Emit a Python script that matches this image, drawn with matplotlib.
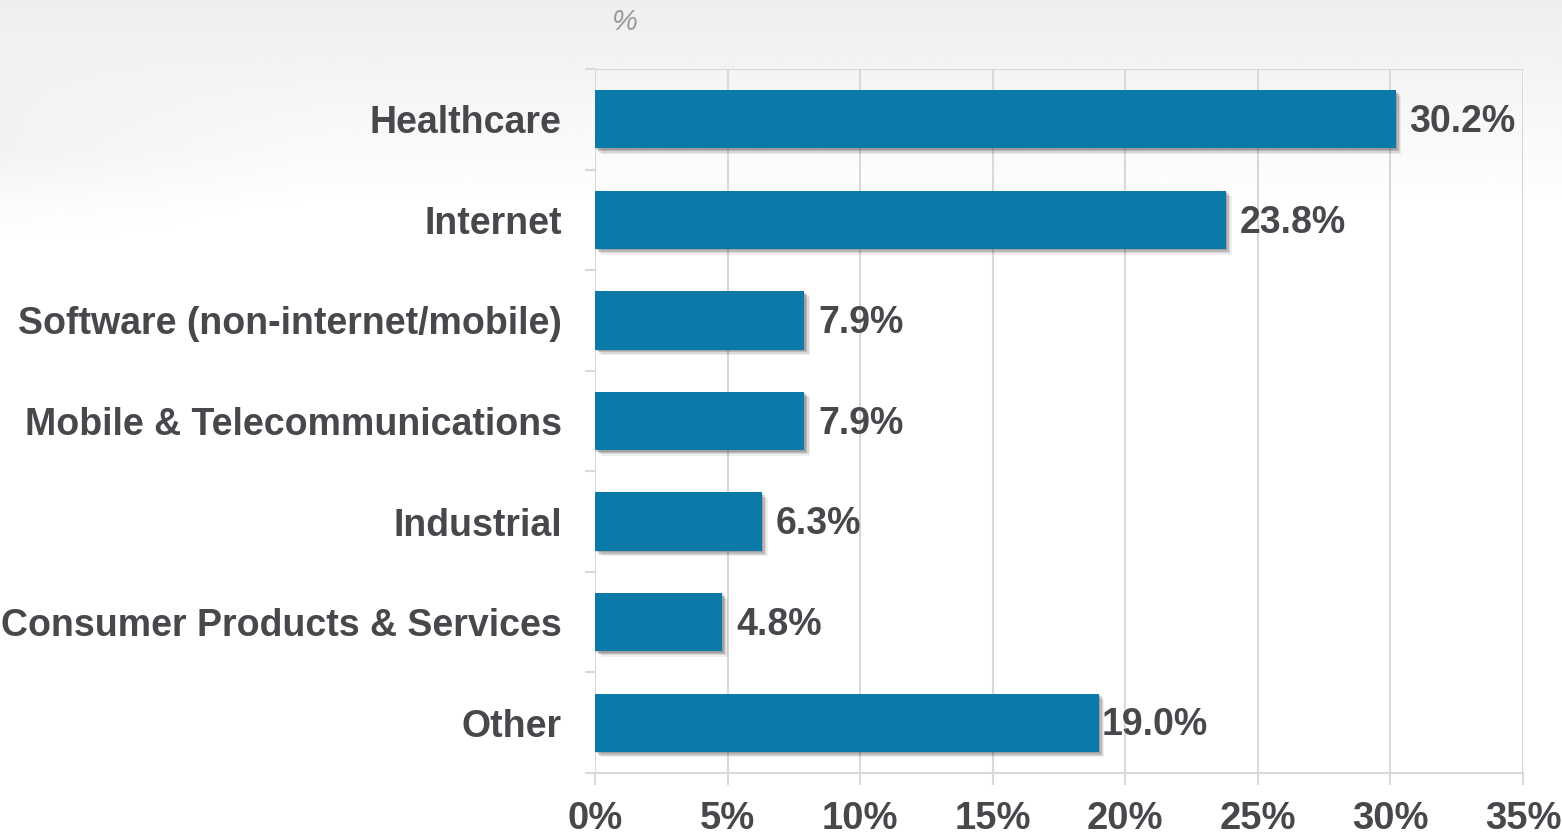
import numpy as np
import matplotlib
matplotlib.use('Agg')
import matplotlib.pyplot as plt
import matplotlib.patheffects as pe

# data
categories = ['Healthcare', 'Internet', 'Software (non-internet/mobile)',
              'Mobile & Telecommunications', 'Industrial',
              'Consumer Products & Services', 'Other']
shares = [30.2, 23.8, 7.9, 7.9, 6.3, 4.8, 19.0]
xticks = [0, 5, 10, 15, 20, 25, 30, 35]

bar_color = '#0b7aa8'
text_color = '#47484c'
grid_color = '#d9d9d9'

plt.rcParams['font.family'] = ['Liberation Sans', 'DejaVu Sans']

fig = plt.figure(figsize=(15.62, 8.36), dpi=100)

# soft grey background fading to white
bg = fig.add_axes([0, 0, 1, 1], zorder=-10)
h, w = 400, 800
yy, xx = np.mgrid[0:h, 0:w] / np.array([h, w])[:, None, None]
shade = np.clip(1.0 - yy / 0.25, 0, 1) * 0.065 + np.clip(1.0 - xx / 0.2, 0, 1) * np.clip(1.0 - np.abs(yy - 0.18) / 0.12, 0, 1) * 0.03
img = 1.0 - np.clip(shade, 0, 0.1)
bg.imshow(img, cmap='gray', vmin=0, vmax=1, aspect='auto', extent=[0, 1, 0, 1])
bg.set_axis_off()

ax = fig.add_axes([595/1562, 1-773/836, (1523-595)/1562, (773-69)/836])
ax.patch.set_alpha(0)

y = np.arange(len(categories))
bars = ax.barh(y, shares, height=0.58, color=bar_color, zorder=3)
# soft drop shadow built from a few faint layers
shadow = [pe.SimplePatchShadow(offset=(d, -d), shadow_rgbFace='#333333', alpha=a)
          for d, a in [(4, 0.08), (3, 0.12), (2, 0.18), (1, 0.2)]]
for b in bars:
    b.set_path_effects(shadow + [pe.Normal()])

for yi, v in zip(y, shares):
    off = 2 if v == 19.0 else 10
    ax.annotate('%.1f%%' % v, (v, yi), xytext=(off, -2), textcoords='offset points',
                ha='left', va='center', fontsize=27, fontweight='bold', color=text_color)

ax.set_xlim(0, 35)
ax.set_ylim(len(categories) - 0.5, -0.5)
ax.set_xticks(xticks)
ax.set_xticklabels(['%d%%' % t for t in xticks], fontsize=27.5, fontweight='bold', color=text_color)
ax.set_yticks(y)
ax.set_yticklabels(categories, fontsize=27, fontweight='bold', color=text_color)
ax.set_yticks(np.arange(-0.5, len(categories), 1.0), minor=True)
ax.tick_params(axis='y', which='major', length=0, pad=24)
ax.tick_params(axis='y', which='minor', length=7, color=grid_color, width=1.5)
ax.tick_params(axis='x', which='major', length=8.5, color=grid_color, width=1.5, pad=12)

ax.grid(axis='x', color=grid_color, linewidth=1.5, zorder=0)
for s in ['left', 'right', 'top']:
    ax.spines[s].set_visible(False)
ax.spines['bottom'].set_color(grid_color)
ax.spines['bottom'].set_linewidth(1.5)
ax.axhline(-0.5, color=grid_color, linewidth=1.5, zorder=1)
ax.axvline(0, color=grid_color, linewidth=1.5, zorder=1)

fig.text(625/1562, 1-22/836, '%', fontsize=21, style='italic', color='#9a9a9a', ha='center', va='center')

plt.savefig('out.png', dpi=100)
